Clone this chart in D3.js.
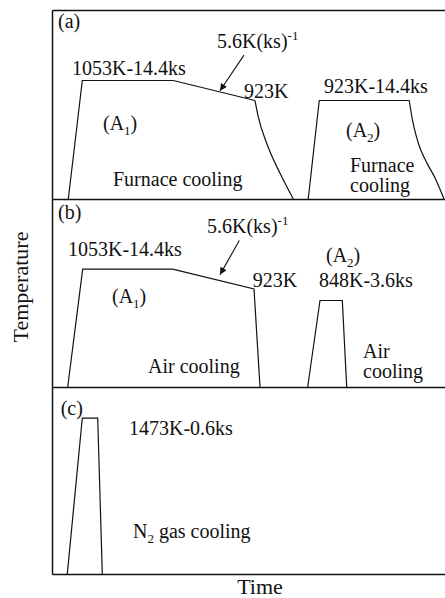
<!DOCTYPE html>
<html>
<head>
<meta charset="utf-8">
<script src="https://cdn.jsdelivr.net/npm/d3@7"></script>
<style>
  body { margin: 0; background: #fff; }
  svg { display: block; }
</style>
</head>
<body>
<div id="chart"></div>
<script>
// schematic heat treatment schedules: [time (arbitrary units), temperature K]
var timeDomain = [0, 100];
var roomTemp = 283;
var topTempAB = 1511;   // panels (a),(b) share one temperature scale
var topTempC = 1710;    // panel (c) drawn on its own scale

// panel (a)
var a1Hold = [[4.15, 283], [7.71, 1053], [30.87, 1053], [51.65, 923]];
var a1Furnace = [[51.65, 923], [52.49, 817], [54.63, 645], [58.02, 450], [61.4, 283]];
var a2Hold = [[65.2, 283], [68.0, 923], [90.9, 923]];
var a2Furnace = [[90.9, 923], [91.73, 796], [92.62, 698], [93.64, 614], [95.42, 516], [97.46, 419], [99.75, 283]];
var arrowA = [[48.85, 1218], [42.75, 986]];

// panel (b)
var b1Air = [[4.0, 283], [7.81, 1053], [30.71, 1053], [51.4, 923], [52.93, 283]];
var b2Air = [[65.06, 283], [68.19, 848], [73.87, 848], [74.99, 283]];
var arrowB = [[47.66, 1240], [42.75, 1017]];

// panel (c)
var cN2 = [[3.89, 283], [7.71, 1473], [11.63, 1473], [12.8, 283]];

var W = 445, H = 598;
var left = 52, right = 445;
var panelEdges = [10, 199, 387, 574];
var serif = "'Liberation Serif', 'Times New Roman', Tinos, 'DejaVu Serif', serif";

var svg = d3.select("#chart").append("svg")
    .attr("width", W).attr("height", H)
    .attr("font-family", serif);

svg.append("defs").append("marker")
    .attr("id", "head")
    .attr("viewBox", "0 0 10 10")
    .attr("refX", 10).attr("refY", 5)
    .attr("markerWidth", 9).attr("markerHeight", 7)
    .attr("markerUnits", "userSpaceOnUse")
    .attr("orient", "auto")
  .append("path")
    .attr("d", "M0,0 L10,5 L0,10 Z")
    .attr("fill", "#111");

var x = d3.scaleLinear().domain(timeDomain).range([left, right]);

var panels = [
  { top: panelEdges[0], bottom: panelEdges[1], tmax: topTempAB,
    lines: [[a1Hold, d3.curveLinear], [a1Furnace, d3.curveMonotoneX],
            [a2Hold, d3.curveLinear], [a2Furnace, d3.curveMonotoneX]],
    arrow: arrowA,
    labels: [
      ["(a)", 6, 18], ["rate", 165, 38], ["1053K-14.4ks", 20, 65], ["923K", 192, 87.5],
      ["923K-14.4ks", 272, 83], ["A1", 51, 120], ["A2", 294, 127],
      ["Furnace cooling", 61, 176], ["Furnace", 298, 162], ["cooling", 298, 182]
    ] },
  { top: panelEdges[1], bottom: panelEdges[2], tmax: topTempAB,
    lines: [[b1Air, d3.curveLinear], [b2Air, d3.curveLinear]],
    arrow: arrowB,
    labels: [
      ["(b)", 6, 20], ["rate", 155, 34], ["1053K-14.4ks", 16, 57], ["923K", 200.7, 87.7],
      ["A2", 274, 63], ["848K-3.6ks", 267, 87.7], ["A1", 60, 104],
      ["Air cooling", 96, 174], ["Air", 311, 159], ["cooling", 311, 179]
    ] },
  { top: panelEdges[2], bottom: panelEdges[3], tmax: topTempC,
    lines: [[cN2, d3.curveLinear]],
    arrow: null,
    labels: [["(c)", 8.7, 28], ["1473K-0.6ks", 77, 48], ["N2", 81, 151]] }
];

panels.forEach(function(p, i) {
  var y = d3.scaleLinear().domain([roomTemp, p.tmax]).range([p.bottom, p.top]);
  var g = svg.append("g");

  p.lines.forEach(function(l) {
    var line = d3.line()
        .x(function(d) { return x(d[0]); })
        .y(function(d) { return y(d[1]); })
        .curve(l[1]);
    g.append("path")
        .attr("d", line(l[0]))
        .attr("fill", "none")
        .attr("stroke", "#111")
        .attr("stroke-width", 1.2);
  });

  if (p.arrow) {
    g.append("line")
        .attr("x1", x(p.arrow[0][0])).attr("y1", y(p.arrow[0][1]))
        .attr("x2", x(p.arrow[1][0])).attr("y2", y(p.arrow[1][1]))
        .attr("stroke", "#111").attr("stroke-width", 1.1)
        .attr("marker-end", "url(#head)");
  }

  p.labels.forEach(function(lb) {
    var t = g.append("text")
        .attr("x", left + lb[1])
        .attr("y", p.top + lb[2])
        .attr("font-family", serif)
        .attr("font-size", 20)
        .attr("fill", "#111");
    if (lb[0] == "rate") {
      t.append("tspan").text("5.6K(ks)");
      t.append("tspan").attr("dy", -8).attr("font-size", 13).text("-1");
    } else if (lb[0] == "A1" || lb[0] == "A2") {
      t.append("tspan").text("(A");
      t.append("tspan").attr("dy", 5).attr("font-size", 13).text(lb[0].slice(1));
      t.append("tspan").attr("dy", -5).text(")");
    } else if (lb[0] == "N2") {
      t.append("tspan").text("N");
      t.append("tspan").attr("dy", 5).attr("font-size", 13).text("2");
      t.append("tspan").attr("dy", -5).text(" gas cooling");
    } else {
      t.text(lb[0]);
    }
  });

  // frame: left edge and bottom edge of each panel
  svg.append("g")
      .attr("transform", "translate(" + left + ",0)")
      .call(d3.axisLeft(y).ticks(0).tickSizeOuter(0));
  svg.append("g")
      .attr("transform", "translate(0," + p.bottom + ")")
      .call(d3.axisBottom(x).ticks(0).tickSizeOuter(0));
  if (i == 0) {
    svg.append("g")
        .attr("transform", "translate(0," + p.top + ")")
        .call(d3.axisTop(x).ticks(0).tickSizeOuter(0));
  }
});

svg.selectAll(".domain")
    .attr("stroke", "#111")
    .attr("stroke-width", 1.5);

svg.append("text")
    .attr("x", 260).attr("y", 594)
    .attr("text-anchor", "middle")
    .attr("font-family", serif)
    .attr("font-size", 22)
    .attr("fill", "#111")
    .text("Time");

svg.append("text")
    .attr("transform", "translate(28,287) rotate(-90)")
    .attr("text-anchor", "middle")
    .attr("font-family", serif)
    .attr("font-size", 22)
    .attr("fill", "#111")
    .text("Temperature");
</script>
</body>
</html>
